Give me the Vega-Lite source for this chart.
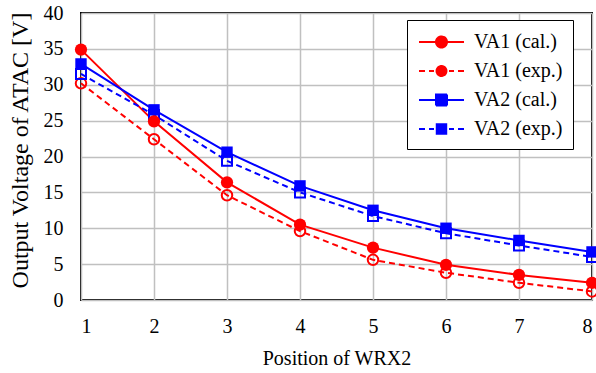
{
  "$schema": "https://vega.github.io/schema/vega-lite/v6.json",
  "width": 511,
  "height": 287,
  "autosize": "none",
  "padding": {"left": 81, "top": 13, "right": 4, "bottom": 73},
  "background": "white",
  "config": {
    "font": "Liberation Serif",
    "view": {"stroke": "black", "strokeWidth": 2},
    "axis": {
      "grid": true,
      "gridColor": "#c0c0c0",
      "gridWidth": 1.5,
      "ticks": false,
      "tickSize": 0,
      "domain": false,
      "labelFont": "Liberation Serif",
      "labelFontSize": 20,
      "labelColor": "black",
      "titleFont": "Liberation Serif",
      "titleFontSize": 20,
      "titleColor": "black",
      "titleFontWeight": "normal"
    },
    "legend": {"labelFont": "Liberation Serif"}
  },
  "data": {
    "values": [
      {"x": 1, "v": 34.9, "series": "VA1 (cal.)"},
      {"x": 2, "v": 24.9, "series": "VA1 (cal.)"},
      {"x": 3, "v": 16.4, "series": "VA1 (cal.)"},
      {"x": 4, "v": 10.5, "series": "VA1 (cal.)"},
      {"x": 5, "v": 7.3, "series": "VA1 (cal.)"},
      {"x": 6, "v": 4.9, "series": "VA1 (cal.)"},
      {"x": 7, "v": 3.5, "series": "VA1 (cal.)"},
      {"x": 8, "v": 2.4, "series": "VA1 (cal.)"},
      {"x": 1, "v": 30.2, "series": "VA1 (exp.)"},
      {"x": 2, "v": 22.4, "series": "VA1 (exp.)"},
      {"x": 3, "v": 14.6, "series": "VA1 (exp.)"},
      {"x": 4, "v": 9.6, "series": "VA1 (exp.)"},
      {"x": 5, "v": 5.6, "series": "VA1 (exp.)"},
      {"x": 6, "v": 3.8, "series": "VA1 (exp.)"},
      {"x": 7, "v": 2.4, "series": "VA1 (exp.)"},
      {"x": 8, "v": 1.2, "series": "VA1 (exp.)"},
      {"x": 1, "v": 32.9, "series": "VA2 (cal.)"},
      {"x": 2, "v": 26.5, "series": "VA2 (cal.)"},
      {"x": 3, "v": 20.6, "series": "VA2 (cal.)"},
      {"x": 4, "v": 15.9, "series": "VA2 (cal.)"},
      {"x": 5, "v": 12.5, "series": "VA2 (cal.)"},
      {"x": 6, "v": 10.0, "series": "VA2 (cal.)"},
      {"x": 7, "v": 8.3, "series": "VA2 (cal.)"},
      {"x": 8, "v": 6.7, "series": "VA2 (cal.)"},
      {"x": 1, "v": 31.5, "series": "VA2 (exp.)"},
      {"x": 2, "v": 25.8, "series": "VA2 (exp.)"},
      {"x": 3, "v": 19.4, "series": "VA2 (exp.)"},
      {"x": 4, "v": 15.0, "series": "VA2 (exp.)"},
      {"x": 5, "v": 11.7, "series": "VA2 (exp.)"},
      {"x": 6, "v": 9.3, "series": "VA2 (exp.)"},
      {"x": 7, "v": 7.6, "series": "VA2 (exp.)"},
      {"x": 8, "v": 6.0, "series": "VA2 (exp.)"}
    ]
  },
  "encoding": {
    "x": {
      "field": "x",
      "type": "quantitative",
      "scale": {"domain": [1, 8], "nice": false, "zero": false},
      "axis": {"values": [1, 2, 3, 4, 5, 6, 7, 8], "labelPadding": 16, "titlePadding": 12, "title": "Position of WRX2"}
    },
    "y": {
      "field": "v",
      "type": "quantitative",
      "scale": {"domain": [0, 40], "nice": false},
      "axis": {"values": [0, 5, 10, 15, 20, 25, 30, 35, 40], "labelPadding": 18, "titlePadding": 11, "titleFontSize": 24, "titleY": 137, "title": "Output Voltage of ATAC [V]"}
    },
    "color": {
      "field": "series",
      "type": "nominal",
      "scale": {"domain": ["VA1 (cal.)", "VA1 (exp.)", "VA2 (cal.)", "VA2 (exp.)"], "range": ["#ff0000", "#ff0000", "#0000ff", "#0000ff"]},
      "legend": {
        "title": null,
        "orient": "none",
        "legendX": 326,
        "legendY": 7,
        "strokeColor": "black",
        "fillColor": "white",
        "padding": 10,
        "symbolSize": 484,
        "symbolStrokeWidth": 2,
        "symbolType": "M-1,0H1",
        "labelFont": "Liberation Serif",
        "labelFontSize": 20,
        "labelColor": "black",
        "labelOffset": 33,
        "rowPadding": 7,
        "encode": {
          "symbols": {
            "update": {
              "shape": {"signal": "datum.value == 'VA1 (cal.)' ? 'M-0.909,0H3.182M1.636,0A0.5,0.5,0,1,1,0.636,0A0.5,0.5,0,1,1,1.636,0Z' : datum.value == 'VA1 (exp.)' ? 'M-0.909,0H-0.364M0,0H0.455M0.864,0H1.409M1.818,0H2.273M2.636,0H3.182M1.586,0A0.45,0.45,0,1,1,0.686,0A0.45,0.45,0,1,1,1.586,0Z' : datum.value == 'VA2 (cal.)' ? 'M-0.909,0H3.182M0.636,-0.5H1.636V0.5H0.636Z' : 'M-0.909,0H-0.364M0,0H0.455M0.864,0H1.409M1.818,0H2.273M2.636,0H3.182M0.706,-0.43H1.566V0.43H0.706Z'"},
              "fill": {"signal": "datum.value == 'VA1 (cal.)' ? '#ff0000' : datum.value == 'VA2 (cal.)' ? '#0000ff' : 'transparent'"},
              "strokeDash": {"value": [1, 0]},
              "strokeWidth": {"value": 2},
              "opacity": {"value": 1}
            }
          }
        }
      }
    }
  },
  "layer": [
    {
      "transform": [{"filter": "indexof(datum.series, 'cal') >= 0"}],
      "mark": {"type": "line", "strokeWidth": 2}
    },
    {
      "transform": [{"filter": "indexof(datum.series, 'exp') >= 0"}],
      "mark": {"type": "line", "strokeWidth": 2, "strokeDash": [6, 4]}
    },
    {
      "transform": [{"filter": "datum.series == 'VA1 (exp.)'"}],
      "mark": {"type": "point", "shape": "circle", "size": 110, "strokeWidth": 2, "opacity": 1, "filled": false}
    },
    {
      "transform": [{"filter": "datum.series == 'VA2 (exp.)'"}],
      "mark": {"type": "point", "shape": "square", "size": 100, "strokeWidth": 2, "opacity": 1, "filled": false}
    },
    {
      "transform": [{"filter": "datum.series == 'VA2 (cal.)'"}],
      "mark": {"type": "point", "shape": "square", "size": 130, "opacity": 1, "filled": true}
    },
    {
      "transform": [{"filter": "datum.series == 'VA1 (cal.)'"}],
      "mark": {"type": "point", "shape": "circle", "size": 150, "opacity": 1, "filled": true}
    }
  ]
}
